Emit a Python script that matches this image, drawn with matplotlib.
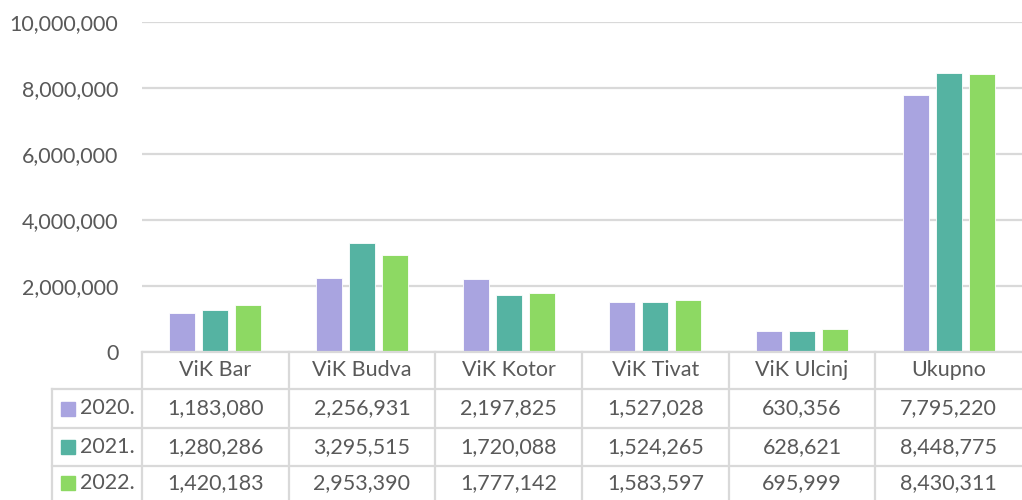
import matplotlib.pyplot as plt
from matplotlib.patches import Rectangle
from matplotlib.ticker import FuncFormatter

# podaci
kategorije = ['ViK Bar', 'ViK Budva', 'ViK Kotor', 'ViK Tivat', 'ViK Ulcinj', 'Ukupno']
godine = ['2020.', '2021.', '2022.']
v2020 = [1183080, 2256931, 2197825, 1527028, 630356, 7795220]
v2021 = [1280286, 3295515, 1720088, 1524265, 628621, 8448775]
v2022 = [1420183, 2953390, 1777142, 1583597, 695999, 8430311]
serije = [v2020, v2021, v2022]
boje = ['#A9A4E0', '#55B3A2', '#8DD963']

plt.rcParams['font.family'] = ['Lato', 'DejaVu Sans']
siva = '#595959'
linija = '#D9D9D9'

W, H = 1022, 500
fig = plt.figure(figsize=(W / 100, H / 100), dpi=100)

# grafik sa stubicima
ax = fig.add_axes([142 / W, (H - 352) / H, 880 / W, 330 / H])
n = len(kategorije)
korak = 33 / 146.67
sirina = 26 / 146.67
for i, (vals, c) in enumerate(zip(serije, boje)):
    xs = [k + (i - 1) * korak for k in range(n)]
    ax.bar(xs, vals, width=sirina, color=c, edgecolor='white', linewidth=0.6, zorder=3)

ax.set_xlim(-0.5, n - 0.5)
ax.set_ylim(0, 10000000)
ax.set_yticks(range(0, 10000001, 2000000))
ax.yaxis.set_major_formatter(FuncFormatter(lambda v, p: f'{int(v):,}'))
ax.tick_params(axis='y', length=0, labelsize=15.5, labelcolor=siva, pad=17)
ax.set_xticks([])
ax.grid(axis='y', color=linija, linewidth=1.6, zorder=0)
for s in ax.spines.values():
    s.set_visible(False)

# tabela sa podacima
left_px = 52
x0 = -0.5 - (142 - left_px) / 146.67
tb = fig.add_axes([left_px / W, 0, (W - left_px) / W, 148 / H])
tb.set_xlim(x0, n - 0.5)
tb.set_ylim(0, 148)
tb.axis('off')

redovi = [148, 111, 72, 34, -10]  # granice redova (px od dna)
lw = 1.6
# horizontalne linije
tb.plot([-0.5, n - 0.5], [redovi[0]] * 2, color=linija, lw=lw, clip_on=False)
for y in redovi[1:4]:
    tb.plot([x0, n - 0.5], [y, y], color=linija, lw=lw, clip_on=False)
# vertikalne linije
tb.plot([x0, x0], [redovi[1], 0], color=linija, lw=lw, clip_on=False)
for k in range(n):
    tb.plot([k - 0.5, k - 0.5], [redovi[0], 0], color=linija, lw=lw, clip_on=False)

fs = 15.5
for k, naziv in enumerate(kategorije):
    tb.text(k, (redovi[0] + redovi[1]) / 2, naziv, ha='center', va='center',
            fontsize=fs, color=siva)

for r, (g, vals, c) in enumerate(zip(godine, serije, boje)):
    yc = (redovi[r + 1] + max(redovi[r + 2], 0)) / 2
    if r == 2:
        yc = 17
    sq = 14 / 146.67
    tb.add_patch(Rectangle((x0 + 9 / 146.67, yc - 7), sq, 14, color=c, clip_on=False))
    tb.text(x0 + 28 / 146.67, yc, g, ha='left', va='center', fontsize=fs, color=siva)
    for k, v in enumerate(vals):
        tb.text(k, yc, f'{v:,}', ha='center', va='center', fontsize=fs, color=siva)

fig.savefig('out.png', dpi=100, facecolor='white')
